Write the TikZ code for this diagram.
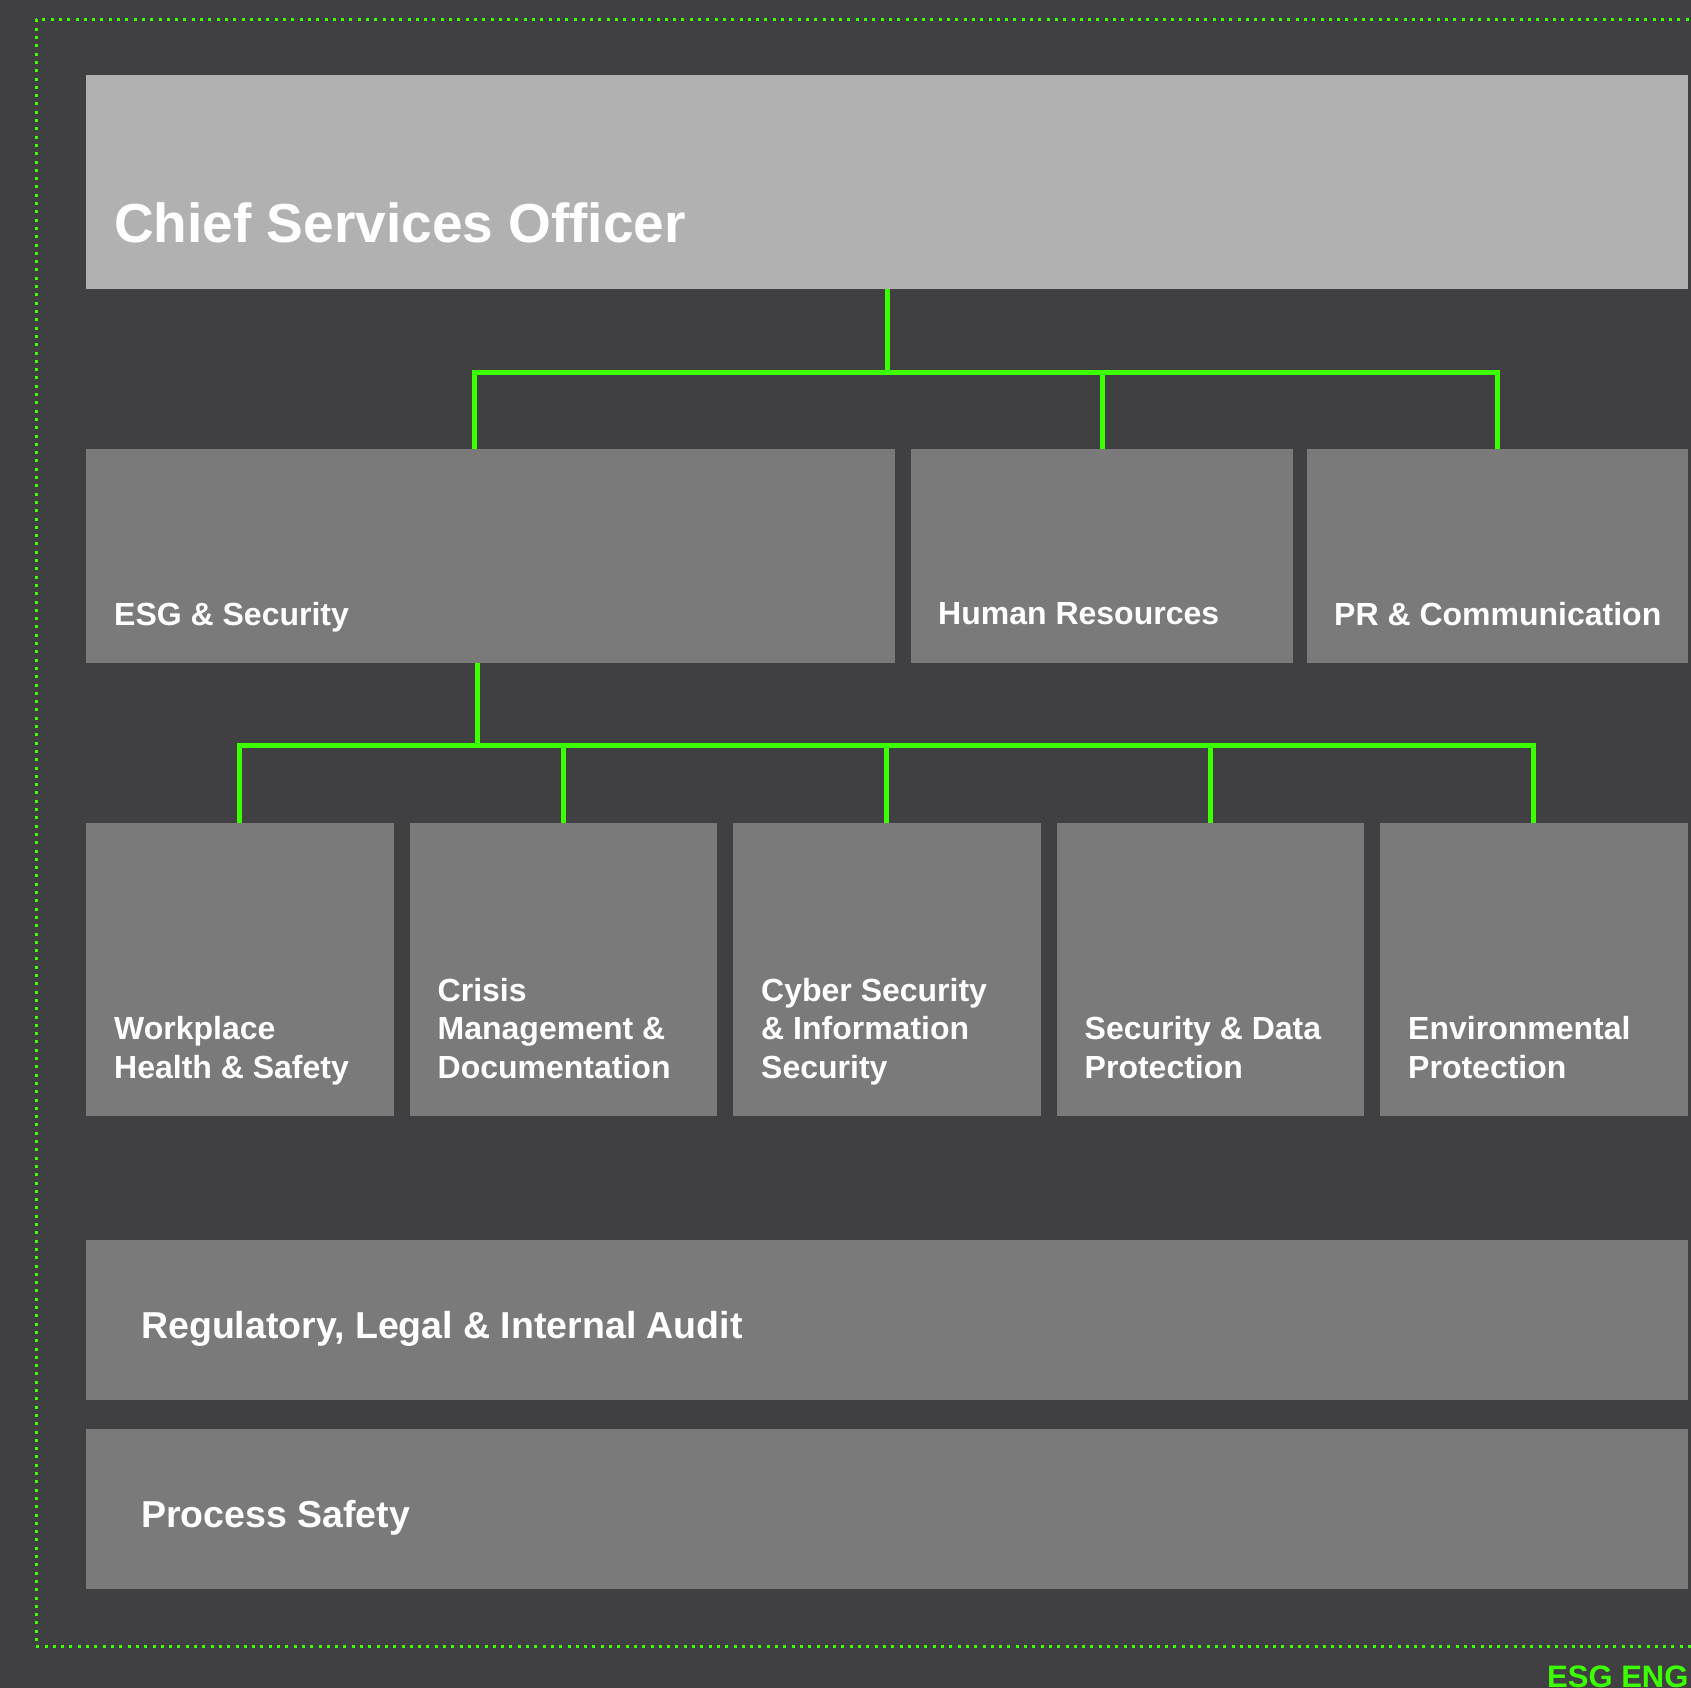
\documentclass[tikz,border=0pt]{standalone}
\usepackage{fontspec}
\setmainfont{Liberation Sans}
\usetikzlibrary{positioning, calc}
\definecolor{bgdark}{RGB}{64,64,66}
\definecolor{headgrey}{RGB}{177,177,177}
\definecolor{boxgrey}{RGB}{122,122,122}
\definecolor{neon}{RGB}{60,255,0}

\begin{document}
\begin{tikzpicture}[x=1pt, y=-1pt, node distance=16pt,
    box/.style={rectangle, fill=boxgrey, inner sep=0pt, outer sep=0pt},
    head/.style={box, fill=headgrey, minimum width=1602pt, minimum height=213.5pt},
    dept/.style={box, minimum height=214pt},
    team/.style={box, minimum width=307.5pt, minimum height=293pt},
    band/.style={box, minimum width=1602pt, minimum height=160pt},
    lbl/.style={inner sep=0pt, anchor=base west, text=white, font=\bfseries\fontsize{32pt}{38.3pt}\selectfont},
    wire/.style={draw=neon, line width=5pt}]
  \useasboundingbox (0,0) rectangle (1691,1688);
  \clip (0,0) rectangle (1691,1688);
  \fill[bgdark] (0,0) rectangle (1691,1688);
  \draw[neon, line width=3pt, dash pattern=on 3pt off 5.3pt] (36,19.5) rectangle (1730,1646);

  % boxes
  \node[head, anchor=north west] (cso) at (86,75.5) {};
  \node[dept, minimum width=809pt, below=160pt of cso.south west, anchor=north west] (esg) {};
  \node[dept, minimum width=382pt, right=16pt of esg] (hr) {};
  \node[dept, minimum width=381pt, right=14pt of hr] (pr) {};
  \node[team, below=160pt of esg.south west, anchor=north west] (wphs) {};
  \node[team, right=of wphs] (crisis) {};
  \node[team, right=of crisis] (cyber) {};
  \node[team, right=of cyber] (sdp) {};
  \node[team, right=of sdp] (envp) {};
  \node[band, below=124pt of wphs.south west, anchor=north west] (audit) {};
  \node[band, below=29pt of audit] (psafety) {};

  % labels
  \node[lbl, font=\bfseries\fontsize{55pt}{60pt}\selectfont] (cso-t) at ($(cso.south west)+(28,-46)$) {Chief Services Officer};
  \node[lbl] (esg-t) at ($(esg.south west)+(28,-38)$) {ESG \& Security};
  \node[lbl] (hr-t) at ($(hr.south west)+(27,-39)$) {Human Resources};
  \node[lbl] (pr-t) at ($(pr.south west)+(27,-38)$) {PR \& Communication};
  \node[lbl] (wphs-t) at ($(wphs.south west)+(28,-38)$) {\parbox[b]{280pt}{Workplace\\Health \& Safety}};
  \node[lbl] (crisis-t) at ($(crisis.south west)+(28,-38)$) {\parbox[b]{280pt}{Crisis\\Management \&\\Documentation}};
  \node[lbl] (cyber-t) at ($(cyber.south west)+(28,-38)$) {\parbox[b]{280pt}{Cyber Security\\\& Information\\Security}};
  \node[lbl] (sdp-t) at ($(sdp.south west)+(28,-38)$) {\parbox[b]{280pt}{Security \& Data\\Protection}};
  \node[lbl] (envp-t) at ($(envp.south west)+(28,-38)$) {\parbox[b]{280pt}{Environmental\\Protection}};
  \node[lbl, font=\bfseries\fontsize{37.5pt}{42pt}\selectfont] (audit-t) at ($(audit.south west)+(55,-62)$) {Regulatory, Legal \& Internal Audit};
  \node[lbl, font=\bfseries\fontsize{37.5pt}{42pt}\selectfont] (psafety-t) at ($(psafety.south west)+(55,-62)$) {Process Safety};
  \node[lbl, text=neon, font=\bfseries\fontsize{31pt}{36pt}\selectfont] (brand) at (1547,1687) {ESG ENG};

  % connectors
  \coordinate (esg-in) at ($(esg.north west)+(388,0)$);
  \coordinate (esg-out) at ($(esg.south west)+(391,0)$);
  \draw[wire] (cso.south) -- ++(0,83) coordinate (bus1);
  \draw[wire] (esg-in) -- (esg-in |- bus1) -- (bus1 -| pr.north) -- (pr.north);
  \draw[wire] (hr.north) -- (hr.north |- bus1);
  \draw[wire] (esg-out) -- ++(0,82) coordinate (bus2);
  \draw[wire] (wphs.north) -- (wphs.north |- bus2) -- (bus2 -| envp.north) -- (envp.north);
  \foreach \t in {crisis, cyber, sdp}
    \draw[wire] (\t.north) -- (\t.north |- bus2);
\end{tikzpicture}
\end{document}
